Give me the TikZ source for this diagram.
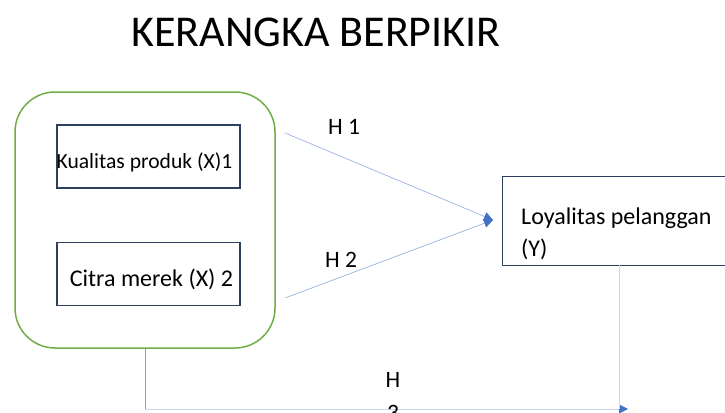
\documentclass[tikz,border=0pt]{standalone}
\usepackage{fontspec}
\setmainfont{Carlito}
\usetikzlibrary{arrows.meta}
\definecolor{grn}{HTML}{70AD47}
\definecolor{navy}{HTML}{2F3F60}
\definecolor{lblue}{HTML}{8FAADC}
\definecolor{pblue}{HTML}{C9D6EE}
\definecolor{mblue}{HTML}{7F9FDB}
\definecolor{dblue}{HTML}{4472C4}
\begin{document}
\begin{tikzpicture}[x=1pt,y=-1pt,
  varbox/.style={draw=navy, line width=1.2pt, minimum width=183pt, minimum height=63pt, inner sep=0pt},
  grpbox/.style={draw=grn, line width=1.5pt, rounded corners=40pt, minimum width=260pt, minimum height=256pt, inner sep=0pt},
  lbl/.style={font=\fontsize{24}{32}\selectfont, inner sep=0pt},
  hlbl/.style={font=\fontsize{23.5}{33}\selectfont, inner sep=0pt},
  conn/.style={draw=lblue, line width=0.6pt, -{Triangle[length=9pt,width=9pt,color=dblue]}},
  plain/.style={line width=1pt}]
\useasboundingbox (0,0) rectangle (725,412);
\node[font=\fontsize{44}{50}\selectfont, inner sep=0pt, anchor=base] (title) at (316,47) {KERANGKA BERPIKIR};
\node[grpbox] (grp) at (145,220) {};
\node[varbox] (x1) at (148.5,156.5) {};
\node[lbl, font=\fontsize{21.6}{26}\selectfont, anchor=base] (x1t) at (144.5,168) {Kualitas produk (X)1};
\node[varbox] (x2) at (148.5,274) {};
\node[lbl, anchor=base] (x2t) at (151.5,286) {Citra merek (X) 2};
\node[draw=navy, line width=1.2pt, minimum width=240pt, minimum height=89pt, inner sep=0pt, anchor=north west] (y) at (502,176) {};
\node[lbl, anchor=base west] (yt1) at (521,224) {Loyalitas pelanggan};
\node[lbl, anchor=base west] (yt2) at (521,256) {(Y)};
\coordinate (h1s) at (285,133);
\coordinate (h2s) at (285,298);
\coordinate (yin) at (493,220);
\draw[conn] (h1s) -- (yin);
\draw[conn] (h2s) -- (yin);
\node[hlbl] (h1) at (344,127) {H 1};
\node[hlbl] (h2) at (341,259.5) {H 2};
\coordinate (bl) at (145,409);
\coordinate (br) at (628,409);
\coordinate (ybot) at (619,264.5);
\coordinate (ybotend) at (619,409);
\draw[mblue, plain] (grp.south) -- (bl);
\draw[pblue, plain, -{Triangle[length=9pt,width=9pt,color=dblue]}] (bl) -- (br);
\draw[pblue, plain] (ybot) -- (ybotend);
\node[hlbl, align=center, anchor=north] (h3) at (393,372) {H\\3};
\end{tikzpicture}
\end{document}
